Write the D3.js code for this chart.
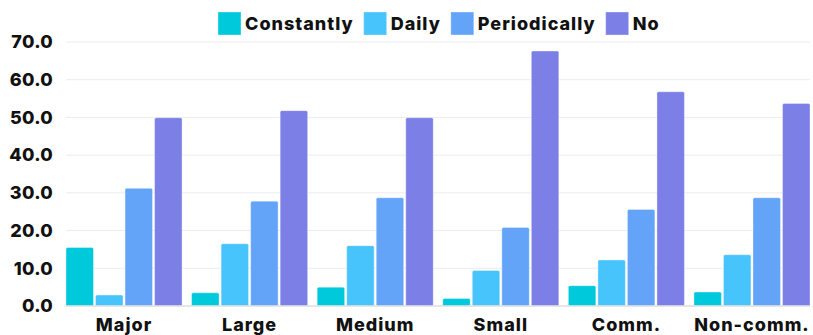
<!DOCTYPE html>
<html>
<head>
<meta charset="utf-8">
<script src="https://cdn.jsdelivr.net/npm/d3@7"></script>
<style>
  html, body { margin: 0; padding: 0; background: #fff; }
  svg { display: block; font-family: "Inter", "Lato", sans-serif; }
</style>
</head>
<body>
<svg id="chart" width="813" height="335"></svg>
<script>
// Company groups along the x axis
const categories = ["Major", "Large", "Medium", "Small", "Comm.", "Non-comm."];
// Answer options (one bar each per group)
const seriesNames = ["Constantly", "Daily", "Periodically", "No"];
const seriesColors = ["#00c9db", "#47c4fc", "#63a4f8", "#7c7fe5"];
// Share of respondents, %
const constantly   = [15.5, 3.5, 5.0, 2.0, 5.4, 3.7];
const daily        = [2.9, 16.5, 16.0, 9.4, 12.2, 13.6];
const periodically = [31.2, 27.8, 28.7, 20.8, 25.6, 28.7];
const no           = [49.9, 51.8, 49.9, 67.6, 56.8, 53.7];
const yTicks = [0, 10, 20, 30, 40, 50, 60, 70];

const seriesValues = [constantly, daily, periodically, no];

const svg = d3.select("#chart");
const margin = { top: 42, right: 3, bottom: 29, left: 66 };
const width = 813 - margin.left - margin.right;
const height = 335 - margin.top - margin.bottom;

const g = svg.append("g").attr("transform", `translate(${margin.left},${margin.top})`);

const x0 = d3.scaleBand().domain(categories).range([0, width]).paddingInner(0.076).paddingOuter(0);
const x1 = d3.scaleBand().domain(seriesNames).range([0, x0.bandwidth()]).paddingInner(0.07).paddingOuter(0);
const y = d3.scaleLinear().domain([0, 70]).range([height, 0]);

// Horizontal grid
g.append("g")
  .selectAll("line")
  .data(yTicks)
  .join("line")
  .attr("x1", 0).attr("x2", width)
  .attr("y1", d => y(d)).attr("y2", d => y(d))
  .attr("stroke", "#ececec")
  .attr("stroke-width", 1);

// Y axis labels
const yAxis = d3.axisLeft(y).tickValues(yTicks).tickFormat(d3.format(".1f")).tickSize(0).tickPadding(13);
g.append("g").call(yAxis)
  .call(s => s.select(".domain").remove())
  .selectAll("text")
  .attr("font-size", 18).attr("font-weight", 800).attr("fill", "#111")
  .attr("letter-spacing", "0.3px")
  .attr("font-family", "Inter, Lato, sans-serif");

// Bars
const groups = g.append("g")
  .selectAll("g")
  .data(categories)
  .join("g")
  .attr("transform", d => `translate(${x0(d)},0)`);

groups.selectAll("rect")
  .data((c, i) => seriesNames.map((s, k) => ({ s, k, v: seriesValues[k][i] })))
  .join("rect")
  .attr("x", d => x1(d.s))
  .attr("y", d => y(d.v))
  .attr("width", x1.bandwidth())
  .attr("height", d => y(0) - y(d.v))
  .attr("rx", 1.5)
  .attr("fill", d => seriesColors[d.k])
  .attr("stroke", "rgba(255,255,255,0.35)")
  .attr("stroke-width", 1);

// Baseline
g.append("line")
  .attr("x1", 0).attr("x2", width)
  .attr("y1", y(0)).attr("y2", y(0))
  .attr("stroke", "#e0e0e0").attr("stroke-width", 1.5);

// X axis labels
const xAxis = d3.axisBottom(x0).tickSize(0).tickPadding(12);
g.append("g").attr("transform", `translate(0,${height})`).call(xAxis)
  .call(s => s.select(".domain").remove())
  .selectAll("text")
  .attr("font-size", 18).attr("font-weight", 800).attr("fill", "#111")
  .attr("letter-spacing", "1px")
  .attr("font-family", "Inter, Lato, sans-serif");

// Legend
const legend = svg.append("g").attr("transform", "translate(218,12)");
let lx = 0;
seriesNames.forEach((name, k) => {
  const item = legend.append("g").attr("transform", `translate(${lx},0)`);
  item.append("rect").attr("width", 23).attr("height", 23)
    .attr("fill", seriesColors[k]).attr("stroke", "rgba(255,255,255,0.35)");
  const t = item.append("text").attr("x", 27).attr("y", 18)
    .attr("font-size", 18).attr("font-weight", 800).attr("fill", "#111")
    .attr("letter-spacing", "1px")
    .text(name);
  lx += 27 + t.node().getComputedTextLength() + 10;
});
</script>
</body>
</html>
